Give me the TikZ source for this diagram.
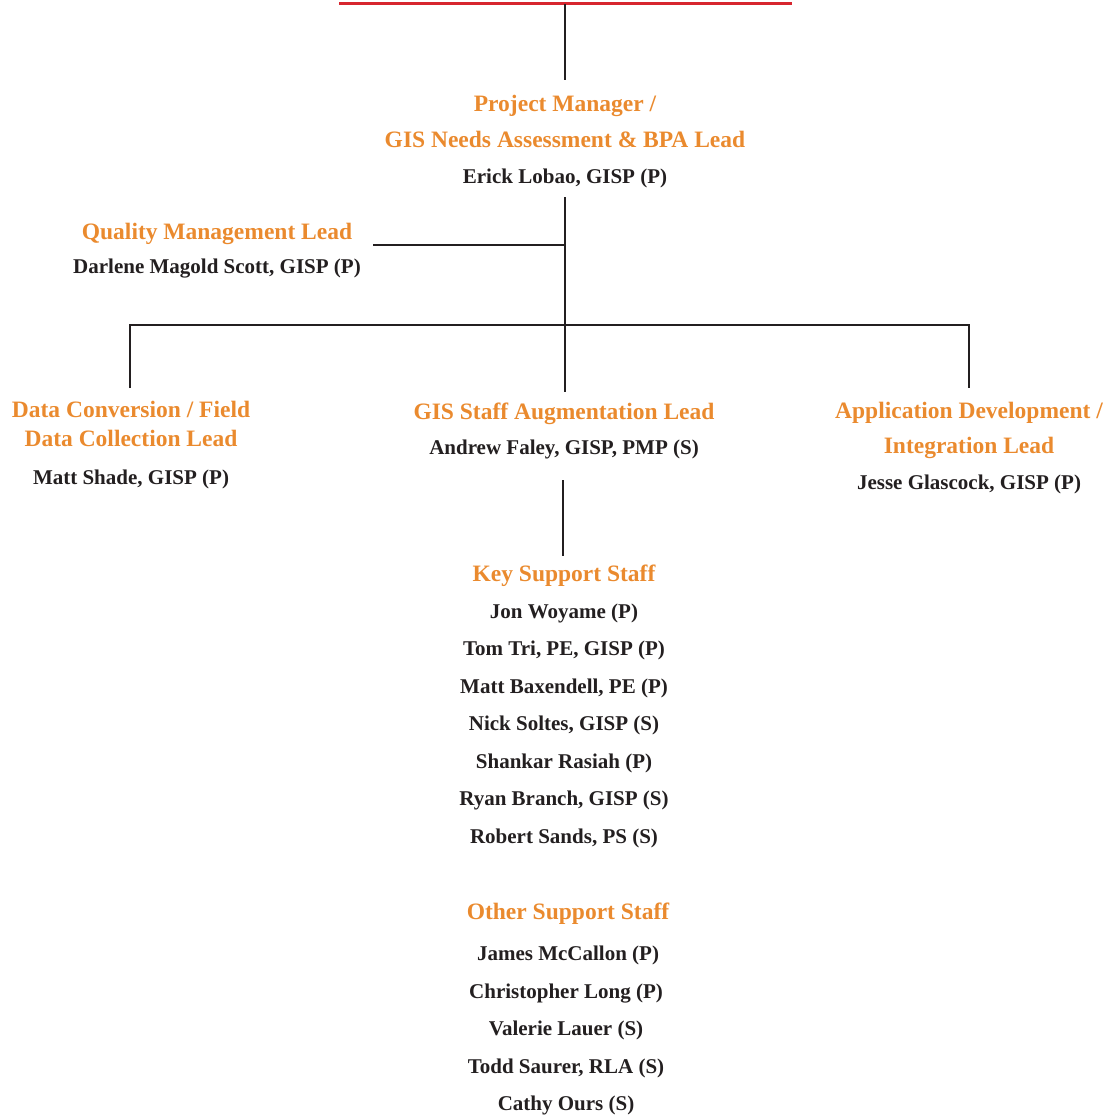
\documentclass[tikz,border=0pt]{standalone}
\usepackage{fontspec}
\setmainfont{Liberation Serif}
\definecolor{orgorange}{HTML}{EA8A2E}
\definecolor{orgdark}{HTML}{231F20}
\definecolor{orgred}{HTML}{D7262F}
\begin{document}
\begin{tikzpicture}[x=1pt,y=-1pt,
  role/.style={anchor=base,inner sep=0pt,text=orgorange,font=\fontsize{23.5}{28}\selectfont\bfseries},
  person/.style={anchor=base,inner sep=0pt,text=orgdark,font=\fontsize{21}{25}\selectfont\bfseries},
  link/.style={draw=orgdark,line width=2.4pt}]
\useasboundingbox (0,0) rectangle (1113,1116);
% top red bar
\coordinate (redL) at (339,4);
\coordinate (redR) at (792,4);
\coordinate (redM) at (565,4);
\draw[orgred,line width=3pt] (redL) -- (redR);
% project manager
\node[role] (pm1) at (565,111) {Project Manager /};
\node[role] (pm2) at (565,147) {GIS Needs Assessment \& BPA Lead};
\node[person] (pm3) at (565,183) {Erick Lobao, GISP (P)};
\coordinate (pmTop) at (565,80);
\draw[link] (redM) -- (pmTop);
% quality
\node[role] (qm1) at (217,239) {Quality Management Lead};
\node[person] (qm2) at (217,273) {Darlene Magold Scott, GISP (P)};
\coordinate (pmBot) at (565,197);
\coordinate (qmJ) at (565,245);
\coordinate (qmEnd) at (373,245);
\draw[link] (qmJ) -- (qmEnd);
% branches
\coordinate (barL) at (130,325);
\coordinate (barM) at (565,325);
\coordinate (barR) at (969,325);
\coordinate (dcTop) at (130,388);
\coordinate (gsTop) at (565,392);
\coordinate (adTop) at (969,388);
\draw[link] (pmBot) -- (gsTop);
\draw[link] (dcTop) -- (barL) -- (barR) -- (adTop);
% data conversion
\node[role] (dc1) at (131,417) {Data Conversion / Field};
\node[role] (dc2) at (131,446) {Data Collection Lead};
\node[person] (dc3) at (131,484) {Matt Shade, GISP (P)};
% gis staff
\node[role] (gs1) at (564,419) {GIS Staff Augmentation Lead};
\node[person] (gs2) at (564,454) {Andrew Faley, GISP, PMP (S)};
% app dev
\node[role] (ad1) at (969,418) {Application Development /};
\node[role] (ad2) at (969,453) {Integration Lead};
\node[person] (ad3) at (969,489) {Jesse Glascock, GISP (P)};
% key support
\coordinate (ksTop) at (563,480);
\coordinate (ksBot) at (563,556);
\draw[link] (ksTop) -- (ksBot);
\node[role] (ks0) at (564,581) {Key Support Staff};
\node[person] (ks1) at (564,618) {Jon Woyame (P)};
\node[person] (ks2) at (564,655) {Tom Tri, PE, GISP (P)};
\node[person] (ks3) at (564,693) {Matt Baxendell, PE (P)};
\node[person] (ks4) at (564,730) {Nick Soltes, GISP (S)};
\node[person] (ks5) at (564,768) {Shankar Rasiah (P)};
\node[person] (ks6) at (564,805) {Ryan Branch, GISP (S)};
\node[person] (ks7) at (564,843) {Robert Sands, PS (S)};
% other support
\node[role] (os0) at (568,919) {Other Support Staff};
\node[person] (os1) at (568,960) {James McCallon (P)};
\node[person] (os2) at (566,998) {Christopher Long (P)};
\node[person] (os3) at (566,1035) {Valerie Lauer (S)};
\node[person] (os4) at (566,1073) {Todd Saurer, RLA (S)};
\node[person] (os5) at (566,1110) {Cathy Ours (S)};
\end{tikzpicture}
\end{document}
